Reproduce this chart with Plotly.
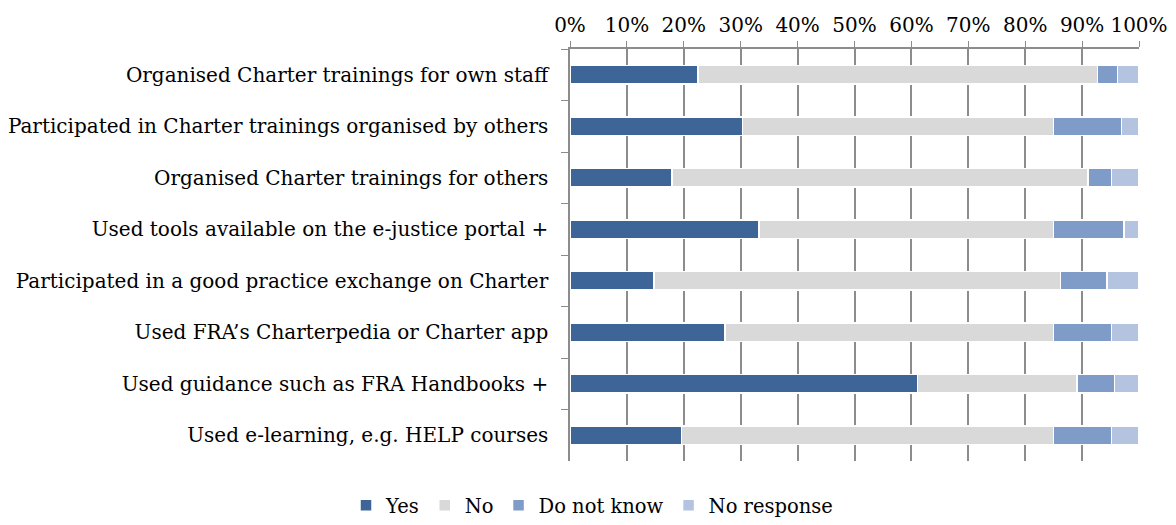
import plotly.graph_objects as go

categories = [
    "Organised Charter trainings for own staff",
    "Participated in Charter trainings organised by others",
    "Organised Charter trainings for others",
    "Used tools available on the e-justice portal +",
    "Participated in a good practice exchange on Charter",
    "Used FRA\u2019s Charterpedia or Charter app",
    "Used guidance such as FRA Handbooks +",
    "Used e-learning, e.g. HELP courses",
]
yes = [22.5, 30.3, 17.9, 33.2, 14.8, 27.2, 61.1, 19.6]
no = [70.2, 54.7, 73.1, 51.8, 71.4, 57.8, 28.0, 65.4]
dnk = [3.5, 11.9, 4.2, 12.4, 8.2, 10.2, 6.6, 10.2]
nr = [3.8, 3.1, 4.8, 2.6, 5.6, 4.8, 4.3, 4.8]
series_names = ["Yes", "No", "Do not know", "No response"]
colors = ["#3E6597", "#D9D9D9", "#7F9CC8", "#B3C3E0"]
tick_values = list(range(0, 101, 10))
tick_labels = [f"{v}%" for v in tick_values]

font_family = "DejaVu Serif, serif"

fig = go.Figure()
for name, vals, col in zip(series_names, [yes, no, dnk, nr], colors):
    fig.add_trace(go.Bar(
        y=categories, x=vals, name=name, orientation="h",
        marker=dict(color=col, line=dict(color="white", width=1.5)),
    ))

# page body has an 8px margin, so the figure is sized/offset to compensate
fig.update_layout(
    barmode="stack",
    bargap=0.64,
    width=1168, height=517,
    margin=dict(l=562, r=37, t=41, b=64),
    paper_bgcolor="white", plot_bgcolor="white",
    font=dict(family=font_family, size=20, color="#000000"),
    legend=dict(orientation="h", x=0.5, xanchor="center", xref="container",
                y=0.0, yanchor="bottom", yref="container",
                font=dict(size=19.5), traceorder="normal", itemwidth=30),
    showlegend=True,
)
fig.update_xaxes(
    side="top", range=[0, 100], tickvals=tick_values, ticktext=tick_labels,
    showgrid=True, gridcolor="#8C8C8C", gridwidth=1.5,
    showline=True, linecolor="#8C8C8C", linewidth=1.5,
    ticks="outside", ticklen=6, tickcolor="#8C8C8C",
    ticklabelstandoff=1,
    zeroline=False, automargin=False,
)
fig.update_yaxes(
    autorange="reversed", showline=True, linecolor="#8C8C8C", linewidth=1.5,
    ticks="outside", ticklen=7, tickcolor="#8C8C8C", tickson="boundaries",
    ticklabelstandoff=16, showgrid=False, automargin=False,
)

fig.write_html("out.html")
